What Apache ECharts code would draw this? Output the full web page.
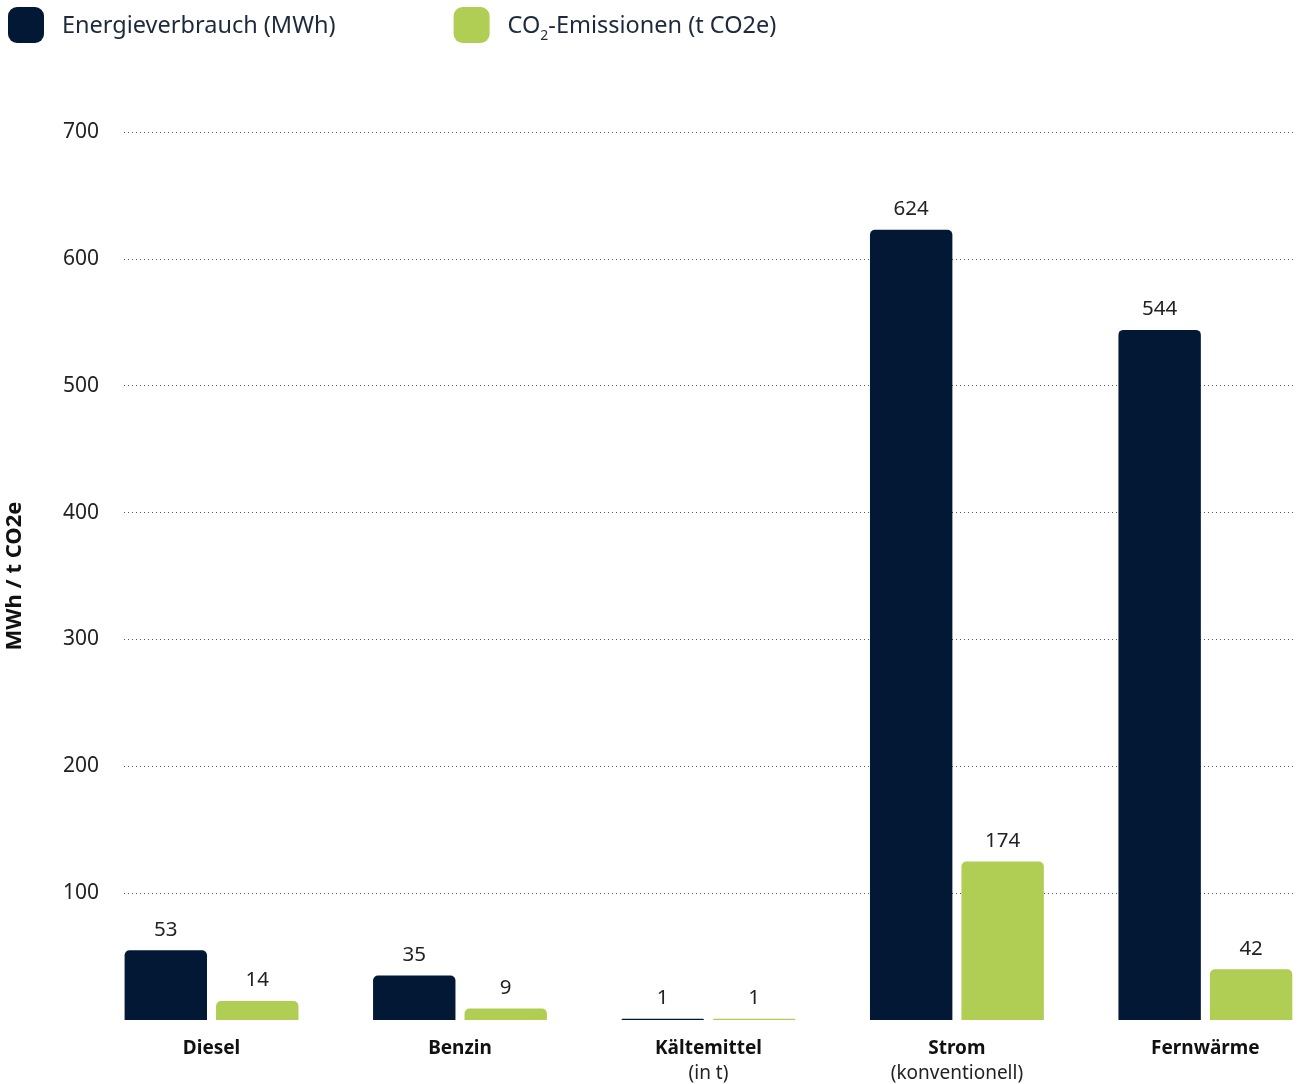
<!DOCTYPE html>
<html>
<head>
<meta charset="utf-8">
<script src="https://cdn.jsdelivr.net/npm/echarts@6/dist/echarts.min.js"></script>
<style>
  html, body { margin: 0; padding: 0; background: #fff; }
  #main { width: 1298px; height: 1084px; }
</style>
</head>
<body>
<div id="main"></div>
<script>
const categories = ["Diesel", "Benzin", "Kältemittel\n(in t)", "Strom\n(konventionell)", "Fernwärme"];
// bar heights as drawn
const energyValues = [55, 35, 1, 623, 544];
const co2Values = [15, 9, 1, 125, 40];
// numbers printed above the bars
const energyLabels = ["53", "35", "1", "624", "544"];
const co2Labels = ["14", "9", "1", "174", "42"];
const yTicks = [100, 200, 300, 400, 500, 600, 700];

const navy = "#021834";
const green = "#b0cd54";
const font = "Noto Sans";

let chartDom = document.getElementById("main");
let myChart = echarts.init(chartDom);

let option = {
  animation: false,
  textStyle: { fontFamily: font },
  legend: {
    left: 3,
    top: 2,
    itemWidth: 36,
    itemHeight: 36,
    itemGap: 118,
    icon: "roundRect",
    data: ["energy", "co2"],
    formatter: function (name) {
      if (name === "co2") return "{a|CO}{s|2}{a|-Emissionen (t CO2e)}";
      return "{a|Energieverbrauch (MWh)}";
    },
    textStyle: {
      rich: {
        a: { fontSize: 23.5, color: "#1c2a3c", fontFamily: font, padding: [3, 0, 0, 0] },
        s: { fontSize: 14, color: "#1c2a3c", fontFamily: font, padding: [22, 0, 0, 0] },
      },
      padding: [0, 0, 0, 13],
    },
  },
  grid: [
    { left: 87.3, width: 1242.3, top: 132, bottom: 64, outerBoundsMode: "none" },
    { left: 124, right: 4, top: 132, bottom: 64, outerBoundsMode: "none" },
  ],
  xAxis: [
    {
      type: "category",
      gridIndex: 0,
      data: categories,
      axisLine: { show: false },
      axisTick: { show: false },
      axisLabel: {
        margin: 16,
        interval: 0,
        formatter: function (v) {
          const parts = v.split("\n");
          if (parts.length > 1) return "{b|" + parts[0] + "}\n{n|" + parts[1] + "}";
          return "{b|" + parts[0] + "}";
        },
        rich: {
          b: { fontSize: 19, fontWeight: "bold", color: "#111", fontFamily: font, lineHeight: 25 },
          n: { fontSize: 19, color: "#222", fontFamily: font, lineHeight: 25 },
        },
      },
    },
    {
      type: "value",
      gridIndex: 1,
      show: false,
    },
  ],
  yAxis: [
    {
      type: "value",
      gridIndex: 0,
      min: 0,
      max: 700,
      show: false,
      splitLine: { show: false },
    },
    {
      type: "value",
      gridIndex: 1,
      min: 0,
      max: 700,
      interval: 100,
      name: "MWh / t CO2e",
      nameLocation: "middle",
      nameGap: 98,
      nameTextStyle: { fontSize: 22, fontWeight: "bold", color: "#111", fontFamily: font },
      axisLine: { show: false },
      axisTick: { show: false },
      axisLabel: {
        margin: 25,
        fontSize: 21,
        color: "#222",
        fontFamily: font,
        formatter: function (v) {
          return yTicks.indexOf(v) >= 0 ? String(v) : "";
        },
      },
      splitLine: {
        show: true,
        lineStyle: { color: "#4a5a6e", width: 1, type: [1, 3] },
        showMinLine: false,
      },
    },
  ],
  series: [
    {
      name: "energy",
      type: "bar",
      xAxisIndex: 0,
      yAxisIndex: 0,
      barWidth: 82.4,
      barGap: "11%",
      data: energyValues,
      itemStyle: { color: navy, borderRadius: [5, 5, 0, 0] },
      label: {
        show: true,
        position: "top",
        distance: 10,
        fontSize: 20.5,
        color: "#222",
        fontFamily: font,
        formatter: function (p) { return energyLabels[p.dataIndex]; },
      },
    },
    {
      name: "co2",
      type: "bar",
      xAxisIndex: 0,
      yAxisIndex: 0,
      barWidth: 82.4,
      data: co2Values,
      itemStyle: { color: green, borderRadius: [5, 5, 0, 0] },
      label: {
        show: true,
        position: "top",
        distance: 10,
        fontSize: 20.5,
        color: "#222",
        fontFamily: font,
        formatter: function (p) { return co2Labels[p.dataIndex]; },
      },
    },
  ],
};
option && myChart.setOption(option);
</script>
</body>
</html>
